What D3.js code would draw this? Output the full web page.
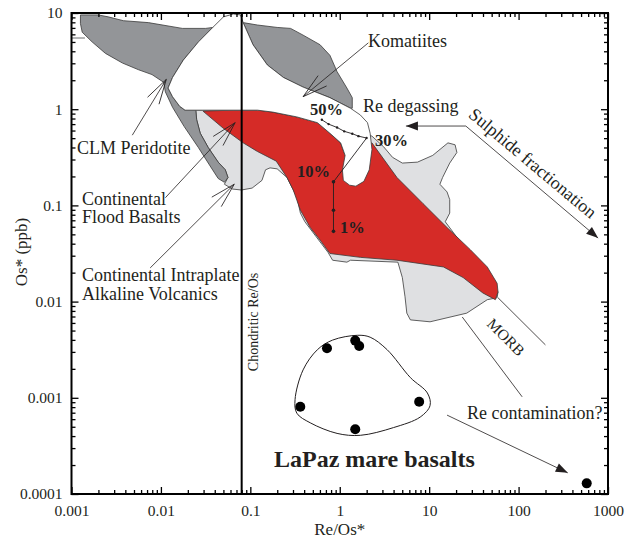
<!DOCTYPE html>
<html>
<head>
<meta charset="utf-8">
<script src="https://cdnjs.cloudflare.com/ajax/libs/d3/7.8.5/d3.min.js"></script>
<style>
body{margin:0;background:#fff;}
text{font-family:"Liberation Serif","Times New Roman",serif;fill:#231f20;}
</style>
</head>
<body>
<script>
// field outlines digitised as [log10(Re/Os*), log10(Os* ppb)]
let clmField=[[-2.90,0.98],[-2.70,0.98],[-2.59,0.96],[-2.42,0.92],[-2.14,0.90],[-1.76,0.84],[-1.50,0.84],[-1.42,0.85],[-1.58,0.70],[-1.75,0.51],[-1.87,0.33],[-1.92,0.22],[-1.87,0.13],[-1.79,0.03],[-1.73,-0.01],[-1.61,-0.01],[-1.60,-0.11],[-1.56,-0.25],[-1.47,-0.40],[-1.36,-0.55],[-1.28,-0.63],[-1.25,-0.71],[-1.29,-0.76],[-1.36,-0.72],[-1.45,-0.59],[-1.58,-0.40],[-1.74,-0.18],[-1.87,0.02],[-1.95,0.18],[-1.97,0.28],[-2.10,0.36],[-2.25,0.41],[-2.43,0.48],[-2.62,0.58],[-2.77,0.70],[-2.88,0.80],[-2.90,0.89]];
let clmTail=[[-3.00,0.74],[-2.85,0.74]];
let komatiiteField=[[-1.08,0.90],[-0.92,0.875],[-0.70,0.85],[-0.55,0.84],[-0.41,0.77],[-0.22,0.67],[-0.11,0.56],[-0.03,0.39],[0.08,0.22],[0.14,0.12],[0.14,0.01],[0.12,0.01],[-0.11,0.12],[-0.41,0.23],[-0.63,0.33],[-0.81,0.46],[-0.97,0.67]];
let openField=[[-1.73,-0.01],[-1.79,0.03],[-1.87,0.13],[-1.92,0.22],[-1.87,0.33],[-1.75,0.51],[-1.58,0.70],[-1.42,0.85],[-1.30,0.96],[-1.19,0.99],[-1.11,0.98],[-1.08,0.90],[-0.97,0.67],[-0.81,0.46],[-0.63,0.33],[-0.41,0.23],[-0.11,0.12],[0.12,0.01],[0.23,-0.06],[0.31,-0.14],[0.34,-0.25],[0.36,-0.42],[0.33,-0.63],[0.27,-0.75],[0.18,-0.80],[0.11,-0.79],[0.04,-0.74],[0.03,-0.63],[0.06,-0.48],[0.01,-0.35],[-0.11,-0.25],[-0.25,-0.14],[-0.48,-0.08],[-0.75,-0.03],[-0.92,-0.01],[-1.53,-0.01]];
let floodField=[[-1.53,-0.02],[-1.19,-0.01],[-0.92,-0.01],[-0.75,-0.03],[-0.48,-0.08],[-0.25,-0.14],[-0.11,-0.25],[0.01,-0.35],[0.06,-0.48],[0.21,-0.42],[0.36,-0.35],[0.64,-0.71],[0.93,-0.98],[1.20,-1.23],[1.46,-1.46],[1.65,-1.64],[1.76,-1.81],[1.77,-1.90],[1.74,-1.98],[1.60,-1.91],[1.38,-1.75],[1.16,-1.64],[0.64,-1.57],[0.23,-1.54],[-0.11,-1.50],[-0.22,-1.36],[-0.33,-1.23],[-0.44,-1.05],[-0.52,-0.84],[-0.59,-0.71],[-0.71,-0.54],[-0.92,-0.44],[-1.08,-0.35],[-1.30,-0.20]];
let morbField=[[-1.61,-0.01],[-0.44,-0.01],[0.36,-0.28],[0.49,-0.39],[0.59,-0.50],[0.70,-0.56],[0.87,-0.55],[1.04,-0.48],[1.21,-0.35],[1.29,-0.37],[1.31,-0.45],[1.23,-0.56],[1.15,-0.71],[1.12,-0.78],[1.20,-0.86],[1.23,-0.94],[1.23,-1.08],[1.18,-1.17],[1.77,-1.90],[1.76,-1.96],[1.65,-1.98],[1.42,-2.12],[1.01,-2.21],[0.79,-2.19],[0.75,-2.12],[0.73,-1.95],[0.70,-1.75],[0.65,-1.59],[0.12,-1.57],[0.08,-1.59],[-0.08,-1.57],[-0.13,-1.49],[-0.39,-1.17],[-0.44,-1.08],[-0.48,-0.91],[-0.53,-0.82],[-0.59,-0.71],[-0.70,-0.62],[-0.78,-0.61],[-0.83,-0.63],[-0.87,-0.74],[-0.98,-0.82],[-1.10,-0.84],[-1.20,-0.83],[-1.29,-0.78],[-1.25,-0.71],[-1.28,-0.63],[-1.36,-0.55],[-1.47,-0.40],[-1.56,-0.25],[-1.60,-0.11]];
let lapazOutline=[[-0.50,-3.02],[-0.41,-2.71],[-0.25,-2.50],[-0.08,-2.40],[0.20,-2.35],[0.34,-2.37],[0.53,-2.50],[0.79,-2.79],[0.98,-2.95],[1.01,-3.08],[0.90,-3.20],[0.60,-3.31],[0.23,-3.39],[-0.03,-3.37],[-0.33,-3.26],[-0.48,-3.16]];
// model curves
let degassCurve=[[-0.20,-0.11],[-0.125,-0.155],[-0.03,-0.19],[0.05,-0.23],[0.14,-0.255],[0.21,-0.28],[0.30,-0.30]];
let meltCurve=[[0.30,-0.30],[-0.07,-0.755],[-0.07,-1.05],[-0.07,-1.27]];
// LaPaz samples
let lapazRe=[0.72,1.49,1.65,0.362,1.49,7.73,578];
let lapazOs=[0.00327,0.00393,0.00345,0.000808,0.000471,0.000910,0.000129];
let chondriticReOs=0.08;
// annotation arrows, log units
let openArrows=[[[-2.32,-0.27],[-1.94,0.31]],[[-1.95,-0.92],[-1.17,-0.14]],[[-2.12,-1.65],[-1.18,-0.78]],[[0.32,0.69],[-0.41,0.13]]];
let solidArrows=[[[1.41,-0.175],[0.74,-0.175]],[[1.41,-0.175],[2.89,-1.34]],[[1.20,-3.18],[2.55,-3.78]]];
let morbLines=[[[1.77,-1.96],[2.30,-2.45]],[[1.37,-2.16],[2.04,-2.99]]];
let xTicks=[0.001,0.01,0.1,1,10,100,1000];
let xTickLabels=["0.001","0.01","0.1","1","10","100","1000"];
let yTicks=[0.0001,0.001,0.01,0.1,1,10];
let yTickLabels=["0.0001","0.001","0.01","0.1","1","10"];

let W=625,H=542;
let x=d3.scaleLog().domain([0.001,1000]).range([71.5,608]);
let y=d3.scaleLog().domain([0.0001,10]).range([494,13]);
let px=d=>x(10**d[0]), py=d=>y(10**d[1]);

let svg=d3.select("body").append("svg").attr("width",W).attr("height",H);
let defs=svg.append("defs");
defs.append("marker").attr("id","vhead").attr("viewBox","-30 -10 32 20")
    .attr("refX",0).attr("refY",0).attr("markerWidth",32).attr("markerHeight",20)
    .attr("markerUnits","userSpaceOnUse").attr("orient","auto")
    .append("path").attr("d","M-25,-6.7L0,0L-25,6.7").attr("fill","none").attr("stroke","#231f20").attr("stroke-width",0.8);
defs.append("marker").attr("id","thead").attr("viewBox","-14 -6 15 12")
    .attr("refX",0).attr("refY",0).attr("markerWidth",15).attr("markerHeight",12)
    .attr("markerUnits","userSpaceOnUse").attr("orient","auto")
    .append("path").attr("d","M-12,-4.5L0,0L-12,4.5Z").attr("fill","#231f20");

let poly=d3.line().x(px).y(py).curve(d3.curveLinearClosed);
let open=d3.line().x(px).y(py);

function field(pts,fill){
    svg.append("path").attr("d",poly(pts)).attr("fill",fill)
        .attr("stroke","#3a3a3a").attr("stroke-width",0.8).attr("stroke-linejoin","round");
}
field(morbField,"#dfe0e2");
field(floodField,"#d52b27");
field(clmField,"#939598");
field(komatiiteField,"#939598");
field(openField,"#ffffff");
svg.append("path").attr("d",open(clmTail)).attr("stroke","#6d6e71").attr("stroke-width",1).attr("fill","none");

// chondritic line
svg.append("line").attr("x1",x(chondriticReOs)).attr("x2",x(chondriticReOs))
    .attr("y1",y.range()[1]).attr("y2",y.range()[0]).attr("stroke","#000").attr("stroke-width",2);

// model curves
svg.append("path").attr("d",open(degassCurve)).attr("fill","none").attr("stroke","#231f20").attr("stroke-width",0.9);
svg.append("path").attr("d",open(meltCurve)).attr("fill","none").attr("stroke","#231f20").attr("stroke-width",0.9);
svg.selectAll(".dg").data(degassCurve).enter().append("circle")
    .attr("cx",px).attr("cy",py).attr("r",1.2).attr("fill","#231f20");
svg.selectAll(".ml").data(meltCurve.slice(1)).enter().append("circle")
    .attr("cx",px).attr("cy",py).attr("r",1.8).attr("fill","#231f20");

// arrows
openArrows.forEach(a=>{
    svg.append("path").attr("d",open(a)).attr("stroke","#231f20").attr("stroke-width",0.8)
        .attr("fill","none").attr("marker-end","url(#vhead)");
});
solidArrows.forEach(a=>{
    svg.append("path").attr("d",open(a)).attr("stroke","#231f20").attr("stroke-width",0.8)
        .attr("fill","none").attr("marker-end","url(#thead)");
});
morbLines.forEach(a=>{
    svg.append("path").attr("d",open(a)).attr("stroke","#231f20").attr("stroke-width",0.8).attr("fill","none");
});

// LaPaz
svg.append("path").attr("d",d3.line().x(px).y(py).curve(d3.curveCatmullRomClosed.alpha(0.5))(lapazOutline))
    .attr("fill","none").attr("stroke","#231f20").attr("stroke-width",1);
svg.selectAll(".lp").data(lapazRe).enter().append("circle")
    .attr("cx",d=>x(d)).attr("cy",(d,i)=>y(lapazOs[i])).attr("r",5).attr("fill","#000");

// labels
let labels=[
    {t:"Komatiites",x:368,y:47},
    {t:"CLM Peridotite",x:77,y:154},
    {t:"Continental",x:82,y:204.5},
    {t:"Flood Basalts",x:82,y:223},
    {t:"Continental Intraplate",x:82,y:281},
    {t:"Alkaline Volcanics",x:82,y:300},
    {t:"Re degassing",x:363,y:112},
    {t:"Re contamination?",x:467,y:418.5},
    {t:"50%",x:310,y:114.5,b:1,s:16.5},
    {t:"30%",x:375,y:146,b:1,s:16.5},
    {t:"10%",x:297,y:177,b:1,s:16.5},
    {t:"1%",x:340,y:233,b:1,s:16.5},
    {t:"LaPaz mare basalts",x:274,y:466.5,b:1,s:24}
];
svg.selectAll(".lab").data(labels).enter().append("text")
    .attr("x",d=>d.x).attr("y",d=>d.y).text(d=>d.t)
    .style("font-size",d=>(d.s||18)+"px").style("font-weight",d=>d.b?"bold":"normal");
svg.append("text").attr("transform","translate(533,163) rotate(40)").attr("text-anchor","middle")
    .attr("dy","0.35em").style("font-size","18px").text("Sulphide fractionation");
svg.append("text").attr("transform","translate(506,337) rotate(45)").attr("text-anchor","middle")
    .attr("dy","0.35em").style("font-size","15.5px").text("MORB");
svg.append("text").attr("transform","translate(257.5,322) rotate(-90)").attr("text-anchor","middle")
    .style("font-size","14px").text("Chondritic Re/Os");

// axes
let minors=[];
for(let e=-4;e<3;e++) for(let k=2;k<10;k++) minors.push(k*10**e);
let xMin=minors.filter(v=>v>0.001&&v<1000), yMin=minors.filter(v=>v>0.0001&&v<10);
let b=y.range()[0], t=y.range()[1], l=x.range()[0], r=x.range()[1];
function ax(g,axis){ g.call(axis); g.select(".domain").remove(); g.selectAll("line").attr("stroke","#000").attr("stroke-width",1.3); g.selectAll("text").style("font-size","15.5px").attr("fill","#231f20").style("font-family","'Liberation Serif',serif"); }
ax(svg.append("g").attr("transform",`translate(0,${b})`),d3.axisBottom(x).tickValues(xTicks).tickSize(-7).tickPadding(11).tickFormat((d,i)=>xTickLabels[i]));
ax(svg.append("g").attr("transform",`translate(0,${b})`),d3.axisBottom(x).tickValues(xMin).tickSize(-4).tickFormat(""));
ax(svg.append("g").attr("transform",`translate(0,${t})`),d3.axisTop(x).tickValues(xTicks).tickSize(-7).tickFormat(""));
ax(svg.append("g").attr("transform",`translate(0,${t})`),d3.axisTop(x).tickValues(xMin).tickSize(-4).tickFormat(""));
ax(svg.append("g").attr("transform",`translate(${l},0)`),d3.axisLeft(y).tickValues(yTicks).tickSize(-7).tickPadding(9).tickFormat((d,i)=>yTickLabels[i]));
ax(svg.append("g").attr("transform",`translate(${l},0)`),d3.axisLeft(y).tickValues(yMin).tickSize(-4).tickFormat(""));
ax(svg.append("g").attr("transform",`translate(${r},0)`),d3.axisRight(y).tickValues(yTicks).tickSize(-7).tickFormat(""));
ax(svg.append("g").attr("transform",`translate(${r},0)`),d3.axisRight(y).tickValues(yMin).tickSize(-4).tickFormat(""));
svg.append("rect").attr("x",l).attr("y",t).attr("width",r-l).attr("height",b-t)
    .attr("fill","none").attr("stroke","#000").attr("stroke-width",2);

svg.append("text").attr("x",(l+r)/2).attr("y",535).attr("text-anchor","middle").style("font-size","17px").text("Re/Os*");
svg.append("text").attr("transform",`translate(27,252) rotate(-90)`).attr("text-anchor","middle").style("font-size","17px").text("Os* (ppb)");
</script>
</body>
</html>
